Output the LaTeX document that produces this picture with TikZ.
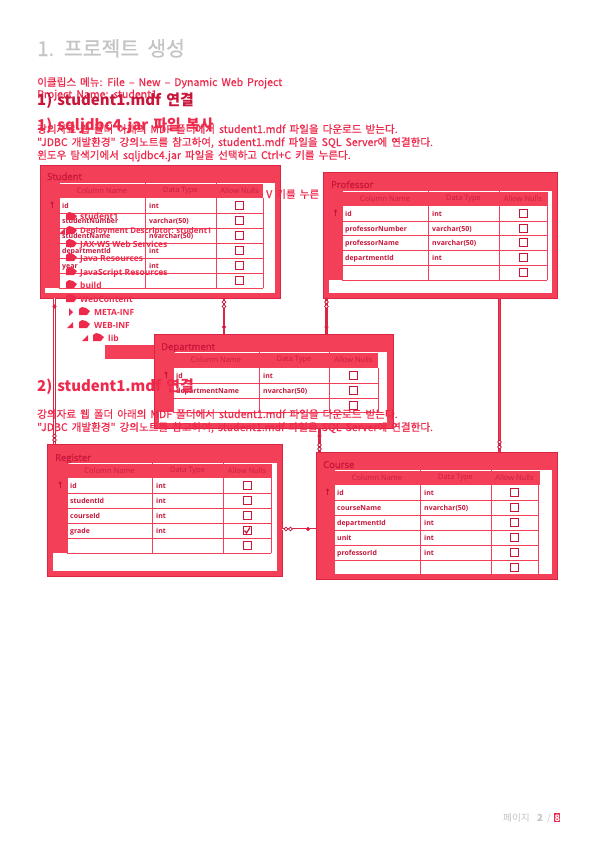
\documentclass[tikz,border=0pt]{standalone}
\usepackage{fontspec}
\setmainfont{Noto Sans CJK KR}
\newfontfamily\tablefont{Open Sans}
\newfontfamily\tableheavy[FakeBold=1.2]{Open Sans}
\newfontfamily\bodyfont[WordSpace=1.7,FakeBold=.6]{Noto Sans CJK KR}
\newfontfamily\titlefont[WordSpace=1.8,FakeBold=.5]{Noto Sans CJK KR}
\newfontfamily\headfont[WordSpace=1.5]{Noto Sans CJK KR}
\definecolor{panelred}{HTML}{F43F58}
\definecolor{edgered}{HTML}{DC2444}
\definecolor{inkred}{HTML}{C8163A}
\definecolor{headred}{HTML}{C8203F}
\definecolor{brightred}{HTML}{EE2A4C}
\definecolor{pagegray}{HTML}{C4C4C4}
\tikzset{
  x=1bp,y=-1bp,
  outerbox/.style={draw=edgered,line width=.9bp,fill=panelred,inner sep=0,outer sep=0},
  innerbox/.style={fill=white,inner sep=0,outer sep=0},
  gridline/.style={draw=panelred,line width=1bp},
  tabletitle/.style={anchor=base west,inner sep=0,text=inkred,font=\tableheavy\fontsize{9.5}{11}\selectfont},
  headtext/.style={inner sep=0,text=headred,font=\tablefont\fontsize{7.5}{9}\selectfont},
  celltext/.style={anchor=base west,inner sep=0,text=inkred,font=\tablefont\fontsize{7}{9}\selectfont\bfseries},
  tickbox/.style={draw=inkred,line width=.9bp,fill=white,minimum size=8bp,inner sep=0,outer sep=0},
  keymark/.style={circle,fill=inkred,draw=brightred,line width=.5bp,minimum size=3.6bp,inner sep=0},
  manymark/.style={circle,fill=white,draw=inkred,line width=.7bp,minimum size=3.6bp,inner sep=0},
  linktwo/.style={draw=edgered,line width=.8bp,double=white,double distance=.8bp},
  linkcore/.style={draw=edgered,line width=.9bp,double=panelred,double distance=.9bp},
  linkone/.style={draw=edgered,line width=2.4bp},
  bodytext/.style={anchor=base west,inner sep=0,text=brightred,font=\bodyfont\fontsize{10.6}{12}\selectfont},
  bighead/.style={anchor=base west,inner sep=0,text=brightred,font=\headfont\fontsize{15}{18}\selectfont\bfseries},
  darkhead/.style={anchor=base west,inner sep=0,text=inkred,font=\headfont\fontsize{15}{18}\selectfont\bfseries},
  treetext/.style={anchor=base west,inner sep=0,text=brightred,font=\tablefont\fontsize{8.5}{10}\selectfont\bfseries},
  foottext/.style={anchor=base west,inner sep=0,text=pagegray,font=\fontsize{9.7}{11}\selectfont},
}
\newcommand\erdpanel[9]{%
  \node[outerbox,minimum width={(#4-#2)*1bp},minimum height={(#5-#3)*1bp}] (#1) at ({(#2+#4)/2},{(#3+#5)/2}) {};
  \node[innerbox,minimum width={(#8-#6)*1bp},minimum height={(#9-#7)*1bp}] (#1-in) at ({(#6+#8)/2},{(#7+#9)/2}) {};
}
\newcommand\erdcols[7]{%
  \def\ca{#2}\def\cb{#3}\def\cc{#4}\def\cd{#5}\def\ce{#6}\def\cf{#7}\def\cname{#1}%
}
\newcommand\erdhead[5]{%
  \fill[panelred] (\ca,#1) rectangle (\cb,#3);
  \fill[panelred] (\ca,{#1+.6}) rectangle (\cf,#2);
  \node[tabletitle] (\cname-label) at ({\ca+2},#4) {#5};
  \node[headtext] (\cname-colname) at ({(\cb+\cc)/2},{(#1+#2)/2}) {Column Name};
  \node[headtext] (\cname-coltype) at ({(\cc+\cd)/2},{(#1+#2)/2}) {Data Type};
  \node[headtext] (\cname-colnull) at ({(\cd+\ce)/2},{(#1+#2)/2}) {Allow Nulls};
  \draw[gridline] (\cb,#1) -- (\cb,#3) (\cc,#1) -- (\cc,#3) (\cd,#1) -- (\cd,#3) (\ce,#2) -- (\ce,#3);
  \draw[gridline] (\cb,#3) -- (\ce,#3);
}
\newcommand\erdrow[5]{%
  \draw[gridline] (\cb,#3) -- (\ce,#3);
  \node[celltext] (\cname-n#1) at ({\cb+3},{#2+10}) {#4};
  \node[celltext] (\cname-t#1) at ({\cc+4},{#2+10}) {#5};
  \node[tickbox] (\cname-b#1) at ({(\cd+\ce)/2},{(#2+#3)/2}) {};
}
\newcommand\erdkey[1]{%
  \fill[inkred] ({(\ca+\cb)/2},{#1-2}) circle (1.6);
  \draw[inkred,line width=.9bp] ({(\ca+\cb)/2},{#1-1}) -- ({(\ca+\cb)/2},{#1+3});
}
\newcommand\foldericon[2]{%
  \fill[brightred] (#1,{#2-3}) -- ({#1+3},{#2-5}) -- ({#1+7},{#2-4}) -- ({#1+11},{#2-1}) -- ({#1+8},{#2+3}) -- (#1,{#2+3}) -- cycle;
}
\newcommand\treeclosed[2]{\fill[brightred] (#1,{#2-4}) -- ({#1+4},#2) -- (#1,{#2+4}) -- cycle;}
\newcommand\treeopen[2]{\fill[brightred] ({#1+5},{#2-3}) -- ({#1+5},{#2+3}) -- ({#1-1},{#2+3}) -- cycle;}
\begin{document}
\begin{tikzpicture}
\useasboundingbox (0,0) rectangle (595,842);
\fill[white] (0,0) rectangle (595,842);

% ---- Student
\erdpanel{student}{40}{165}{280}{298}{45}{183}{275}{293}
\erdcols{student}{45}{59}{145}{216}{263}{263}
\erdhead{183}{198}{288}{180}{Student}
\erdrow{1}{198}{213}{id}{int}
\erdrow{2}{213}{228}{studentNumber}{varchar(50)}
\erdrow{3}{228}{243}{studentName}{nvarchar(50)}
\erdrow{4}{243}{258}{departmentId}{int}
\erdrow{5}{258}{273}{year}{int}
\erdrow{6}{273}{288}{}{}
\erdkey{205}

% ---- Professor
\erdpanel{professor}{323}{172}{557}{298}{329}{191}{552}{293}
\erdcols{professor}{329}{342}{428}{499}{547}{548}
\erdhead{191}{206}{280}{188}{Professor}
\erdrow{1}{206}{221}{id}{int}
\erdrow{2}{221}{235}{professorNumber}{varchar(50)}
\erdrow{3}{235}{250}{professorName}{nvarchar(50)}
\erdrow{4}{250}{265}{departmentId}{int}
\erdrow{5}{265}{280}{}{}
\erdkey{213}

% ---- Department
\erdpanel{department}{154}{334}{393}{428}{159}{352}{387}{423}
\erdcols{department}{159}{173}{259}{329}{378}{378}
\erdhead{352}{368}{412}{350}{Department}
\erdrow{1}{368}{383}{id}{int}
\erdrow{2}{383}{398}{departmentName}{nvarchar(50)}
\erdrow{3}{398}{412}{}{}
\erdkey{375}

% ---- Register
\erdpanel{register}{47}{444}{282}{576}{53}{463}{277}{571}
\erdcols{register}{53}{67}{152}{223}{271}{272}
\erdhead{463}{478}{553}{461}{Register}
\erdrow{1}{478}{493}{id}{int}
\erdrow{2}{493}{508}{studentId}{int}
\erdrow{3}{508}{523}{courseId}{int}
\erdrow{4}{523}{538}{grade}{int}
\erdrow{5}{538}{553}{}{}
\erdkey{485}
\draw[inkred,line width=1.2bp] ([xshift=-2.5pt,yshift=0pt]register-b4.center) -- ([xshift=-.5pt,yshift=-2.5pt]register-b4.center) -- ([xshift=3pt,yshift=3pt]register-b4.center);

% ---- Course
\erdpanel{course}{316}{452}{557}{579}{321}{470}{552}{574}
\erdcols{course}{321}{334}{420}{491}{538}{540}
\erdhead{470}{485}{574}{468}{Course}
\erdrow{1}{485}{500}{id}{int}
\erdrow{2}{500}{515}{courseName}{nvarchar(50)}
\erdrow{3}{515}{530}{departmentId}{int}
\erdrow{4}{530}{545}{unit}{int}
\erdrow{5}{545}{560}{professorId}{int}
\erdrow{6}{560}{574}{}{}
\erdkey{492}

% ---- connector positions
\coordinate (xsr) at (54.5,0);
\coordinate (xsd) at (224,0);
\coordinate (xpd) at (326.5,0);
\coordinate (xdc) at (319.5,0);
\coordinate (xpc) at (499.5,0);
\coordinate (yrc) at (0,529);

\draw[linktwo] (student.south -| xsr) -- (register.north -| xsr);
\draw[linkone] (student.south -| xsd) -- (department.north -| xsd);
\draw[linkone] (professor.south -| xpd) -- (department.north -| xpd);
\draw[linkone] (department.south -| xdc) -- (course.north -| xdc);
\draw[linkcore] (professor.south -| xpc) -- (course.north -| xpc);
\draw[linktwo] (register.east |- yrc) -- (course.west |- yrc);

\node[keymark] (m1) at (54.5,306.5) {};
\node[manymark] (m2) at (54.5,436) {};
\node[manymark] (m3) at (54.5,440) {};
\node[manymark] (m4) at (224,302) {};
\node[manymark] (m5) at (224,306.5) {};
\node[keymark] (m6) at (224,327) {};
\node[manymark] (m7) at (326.5,302) {};
\node[manymark] (m8) at (326.5,306.5) {};
\node[keymark] (m9) at (326.5,327) {};
\node[keymark] (m10) at (319.5,436) {};
\node[manymark] (m11) at (319.5,445) {};
\node[manymark] (m12) at (319.5,449) {};
\node[manymark] (m13) at (499.5,442) {};
\node[manymark] (m14) at (499.5,447) {};
\node[manymark] (m15) at (286,529) {};
\node[manymark] (m16) at (290.5,529) {};
\node[keymark] (m17) at (308,529) {};

% ---- page text, lying over the tables
\node[anchor=base west,inner sep=0,text=pagegray,font=\titlefont\fontsize{20.5}{24}\selectfont] (pagetitle) at (37,56) {1. 프로젝트 생성};
\node[bodytext] (t1) at (37,86) {이클립스 메뉴: File – New – Dynamic Web Project};
\node[bodytext] (t2) at (37,98) {Project Name: student1};
\node[darkhead] (h1) at (37,105) {1) student1.mdf 연결};
\node[bighead] (h2) at (37,130) {1) sqljdbc4.jar 파일 복사};
\node[bodytext] (t3) at (37,133) {강의자료 웹 폴더 아래의 MDF 폴더에서 student1.mdf 파일을 다운로드 받는다.};
\node[bodytext] (t4) at (37,146) {"JDBC 개발환경" 강의노트를 참고하여, student1.mdf 파일을 SQL Server에 연결한다.};
\node[bodytext] (t5) at (37,159) {윈도우 탐색기에서 sqljdbc4.jar 파일을 선택하고 Ctrl+C 키를 누른다.};
\node[bodytext] (t6) at (266,198) {V 키를 누른};

% ---- tree
\foldericon{66}{217}\node[treetext] (tr1) at (80,219) {student1};
\treeopen{60}{231}\foldericon{66}{231}\node[treetext,font=\tablefont\fontsize{7.9}{10}\selectfont\bfseries] (tr2) at (80,233) {Deployment Descriptor: student1};
\treeclosed{70}{244}\foldericon{66}{244}\node[treetext] (tr3) at (80,247) {JAX-WS Web Services};
\foldericon{66}{258}\node[treetext] (tr4) at (80,261) {Java Resources};
\foldericon{66}{272}\node[treetext] (tr5) at (80,275) {JavaScript Resources};
\foldericon{66}{285}\node[treetext] (tr6) at (80,288) {build};
\foldericon{66}{299}\node[treetext] (tr7) at (80,302) {WebContent};
\treeclosed{69}{312}\foldericon{79}{312}\node[treetext] (tr8) at (94,315) {META-INF};
\treeopen{68}{325}\foldericon{79}{325}\node[treetext] (tr9) at (94,328) {WEB-INF};
\treeopen{83}{338}\foldericon{93}{338}\node[treetext] (tr10) at (108,341) {lib};
\fill[panelred] (105,345) rectangle (154,359);

\node[bighead] (h3) at (37,391) {2) student1.mdf 연결};
\node[bodytext] (t7) at (37,418) {강의자료 웹 폴더 아래의 MDF 폴더에서 student1.mdf 파일을 다운로드 받는다.};
\node[bodytext] (t8) at (37,431) {"JDBC 개발환경" 강의노트를 참고하여, student1.mdf 파일을 SQL Server에 연결한다.};

% ---- footer
\fill[brightred] (554,813) rectangle (560,822);
\node[foottext] (foot1) at (503,821) {페이지};
\node[foottext,font=\fontsize{9.7}{11}\selectfont\bfseries] (foot2) at (537,821) {2};
\node[foottext] (foot3) at (547,821) {/};
\node[foottext,text=white,font=\fontsize{9}{11}\selectfont\bfseries] (foot4) at (554.4,821) {8};
\end{tikzpicture}
\end{document}
